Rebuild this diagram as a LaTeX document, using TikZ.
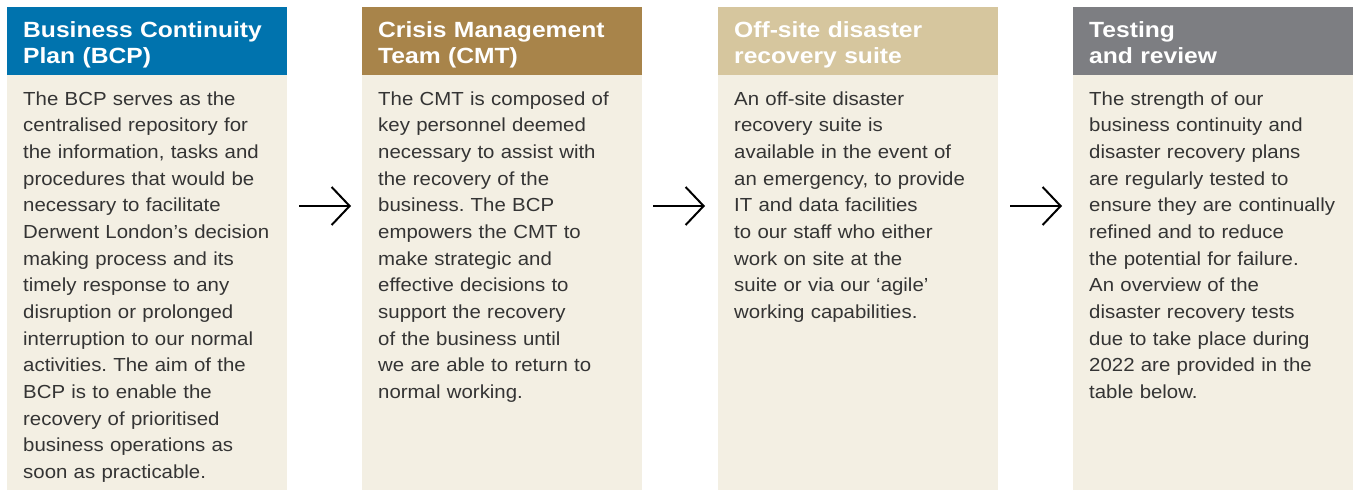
\documentclass[tikz,border=0pt]{standalone}
\usepackage{fontspec}
\setmainfont{Liberation Sans}[FakeStretch=1.08,WordSpace=0.8]
\newfontfamily\hdfont{Liberation Sans}[FakeStretch=1.12]
\usetikzlibrary{arrows.meta}
\definecolor{cblue}{RGB}{0,115,174}
\definecolor{cbrown}{RGB}{168,132,74}
\definecolor{ctan}{RGB}{214,198,158}
\definecolor{cgrey}{RGB}{125,126,130}
\definecolor{cream}{RGB}{243,239,227}
\definecolor{ink}{RGB}{52,52,52}
\frenchspacing
\begin{document}
\begin{tikzpicture}[x=1pt,y=-1pt,
  hdr/.style={anchor=north west,minimum width=280pt,minimum height=68pt,inner sep=0pt,outer sep=0pt},
  panel/.style={anchor=north west,fill=cream,minimum width=280pt,minimum height=415pt,inner sep=0pt,outer sep=0pt},
  hdtext/.style={anchor=base west,inner sep=0pt,text width=264pt,align=left,text=white,
    font=\hdfont\bfseries\fontsize{22}{26}\selectfont},
  bodytext/.style={anchor=base west,inner sep=0pt,text width=264pt,align=left,text=ink,
    font=\fontsize{18.9}{26.67}\selectfont},
  flow/.style={line width=2pt,-{Straight Barb[length=18pt,width=38pt,line width=2pt]}}]
\useasboundingbox (0,0) rectangle (1357,490);
% columns
\node[panel] (b1) at (7,75) {};
\node[panel] (b2) at (362,75) {};
\node[panel] (b3) at (718,75) {};
\node[panel] (b4) at (1073,75) {};
\node[hdr,fill=cblue] (h1) at (7,7) {};
\node[hdr,fill=cbrown] (h2) at (362,7) {};
\node[hdr,fill=ctan] (h3) at (718,7) {};
\node[hdr,fill=cgrey] (h4) at (1073,7) {};
% headings
\node[hdtext] (t1) at (23,37) {Business Continuity\\Plan (BCP)};
\node[hdtext] (t2) at (378,37) {Crisis Management\\Team (CMT)};
\node[hdtext] (t3) at (734,37) {Off-site disaster\\recovery suite};
\node[hdtext] (t4) at (1089,37) {Testing\\and review};
% body texts
\node[bodytext] (x1) at (23,105) {The BCP serves as the\\centralised repository for\\the information, tasks and\\procedures that would be\\necessary to facilitate\\Derwent London’s decision\\making process and its\\timely response to any\\disruption or prolonged\\interruption to our normal\\activities. The aim of the\\BCP is to enable the\\recovery of prioritised\\business operations as\\soon as practicable.};
\node[bodytext] (x2) at (378,105) {The CMT is composed of\\key personnel deemed\\necessary to assist with\\the recovery of the\\business. The BCP\\empowers the CMT to\\make strategic and\\effective decisions to\\support the recovery\\of the business until\\we are able to return to\\normal working.};
\node[bodytext] (x3) at (734,105) {An off-site disaster\\recovery suite is\\available in the event of\\an emergency, to provide\\IT and data facilities\\to our staff who either\\work on site at the\\suite or via our ‘agile’\\working capabilities.};
\node[bodytext] (x4) at (1089,105) {The strength of our\\business continuity and\\disaster recovery plans\\are regularly tested to\\ensure they are continually\\refined and to reduce\\the potential for failure.\\An overview of the\\disaster recovery tests\\due to take place during\\2022 are provided in the\\table below.};
% arrows
\coordinate (s1) at (299,206); \coordinate (e1) at (351,206);
\coordinate (s2) at (653,206); \coordinate (e2) at (705,206);
\coordinate (s3) at (1010,206); \coordinate (e3) at (1062,206);
\draw[flow] (s1) -- (e1);
\draw[flow] (s2) -- (e2);
\draw[flow] (s3) -- (e3);
\end{tikzpicture}
\end{document}
